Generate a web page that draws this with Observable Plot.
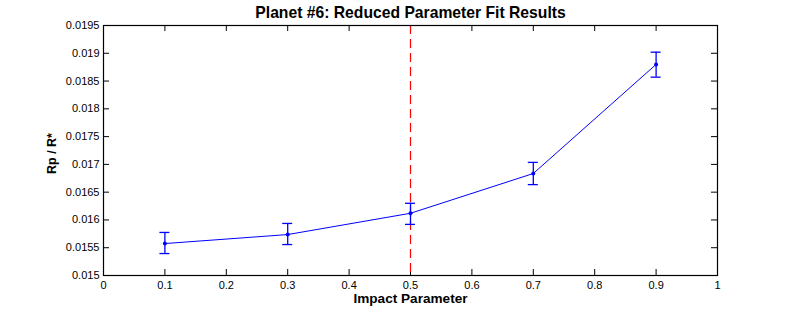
<!DOCTYPE html>
<html>
<head>
<meta charset="utf-8">
<script src="https://cdn.jsdelivr.net/npm/d3@7"></script>
<script src="https://cdn.jsdelivr.net/npm/@observablehq/plot@0.6"></script>
<style>
  html, body { margin: 0; padding: 0; background: #fff; }
  svg { display: block; }
</style>
</head>
<body>
<div id="chart"></div>
<script>
// Data
const impact = [0.1, 0.3, 0.5, 0.7, 0.9];
const ratio  = [0.015575, 0.015737, 0.01612, 0.016836, 0.0188];
const errLo  = [0.00018, 0.00018, 0.0002, 0.0002, 0.00023];
const errHi  = [0.0002, 0.0002, 0.00018, 0.0002, 0.00022];
const markerX = [0.5];

const xTicks = [0, 0.1, 0.2, 0.3, 0.4, 0.5, 0.6, 0.7, 0.8, 0.9, 1];
const xTickLabels = ["0", "0.1", "0.2", "0.3", "0.4", "0.5", "0.6", "0.7", "0.8", "0.9", "1"];
const yTicks = [0.015, 0.0155, 0.016, 0.0165, 0.017, 0.0175, 0.018, 0.0185, 0.019, 0.0195];
const yTickLabels = ["0.015", "0.0155", "0.016", "0.0165", "0.017", "0.0175", "0.018", "0.0185", "0.019", "0.0195"];

const titleText = "Planet #6: Reduced Parameter Fit Results";
const xLabel = "Impact Parameter";
const yLabel = "Rp / R*";

const data = impact.map((x, i) => ({x, y: ratio[i], lo: ratio[i] - errLo[i], hi: ratio[i] + errHi[i]}));

const W = 793, H = 314;
const mL = 103, mR = 76, mT = 25, mB = 39;
const fw = W - mL - mR, fh = H - mT - mB;
const tick = 6;
const font = "Arial, 'Liberation Sans', Helvetica, sans-serif";

const chart = Plot.plot({
  width: W,
  height: H,
  marginLeft: mL,
  marginRight: mR,
  marginTop: mT,
  marginBottom: mB,
  style: {fontFamily: font, fontSize: "11px", color: "black", background: "white"},
  x: {domain: [0, 1]},
  y: {domain: [0.015, 0.0195]},
  marks: [
    // tick labels
    Plot.axisX(xTicks, {anchor: "bottom", tickSize: 0, tickPadding: 6, tickFormat: (d, i) => xTickLabels[i], label: null, fontSize: 11}),
    Plot.axisY(yTicks, {anchor: "left", tickSize: 0, tickPadding: 4, tickFormat: (d, i) => yTickLabels[i], label: null, fontSize: 11}),
    // inward ticks on all four sides
    Plot.tickX(xTicks, {x: d => d, stroke: "black", insetTop: fh - tick}),
    Plot.tickX(xTicks, {x: d => d, stroke: "black", insetBottom: fh - tick}),
    Plot.tickY(yTicks, {y: d => d, stroke: "black", insetRight: fw - tick}),
    Plot.tickY(yTicks, {y: d => d, stroke: "black", insetLeft: fw - tick}),
    // reference line
    Plot.ruleX(markerX, {x: d => d, stroke: "#ff0000", strokeWidth: 1.2, strokeDasharray: "9,5"}),
    // series
    Plot.line(data, {x: "x", y: "y", stroke: "#0000ff", strokeWidth: 1}),
    Plot.ruleX(data, {x: "x", y1: "lo", y2: "hi", stroke: "#0000ff", strokeWidth: 1.3}),
    Plot.ruleY(data, {x1: "x", x2: "x", y: "lo", stroke: "#0000ff", strokeWidth: 1.3, insetLeft: -5, insetRight: -5}),
    Plot.ruleY(data, {x1: "x", x2: "x", y: "hi", stroke: "#0000ff", strokeWidth: 1.3, insetLeft: -5, insetRight: -5}),
    Plot.dot(data, {x: "x", y: "y", r: 2, fill: "#0000ff", stroke: null}),
    Plot.frame({stroke: "black", strokeWidth: 1.2}),
    // titles
    Plot.text([titleText], {frameAnchor: "top", lineAnchor: "middle", dy: -13, text: d => d, fontSize: 15.7, fontWeight: "bold", fill: "black"}),
    Plot.text([xLabel], {frameAnchor: "bottom", lineAnchor: "middle", dy: 23, text: d => d, fontSize: 13.6, fontWeight: "bold", fill: "black"}),
    Plot.text([yLabel], {frameAnchor: "left", textAnchor: "middle", lineAnchor: "middle", dx: -52, dy: 3, rotate: -90, text: d => d, fontSize: 12.5, fontWeight: "bold", fill: "black"})
  ]
});

document.getElementById("chart").appendChild(chart);
</script>
</body>
</html>
